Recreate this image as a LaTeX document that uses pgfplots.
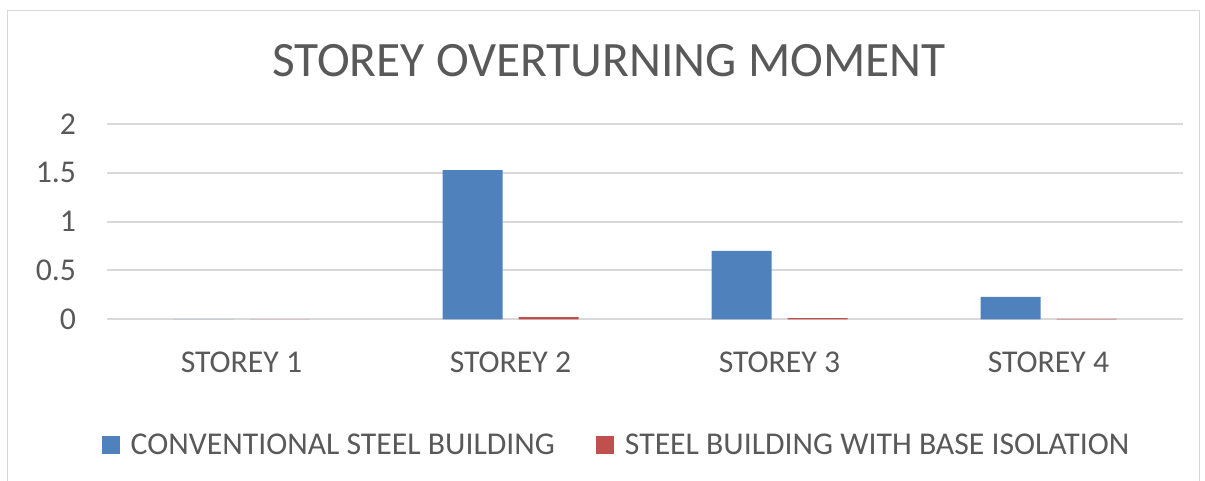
\documentclass[border=0pt]{standalone}
\usepackage{pgfplots}
\pgfplotsset{compat=1.18}
\usepackage{fontspec}
\setmainfont{Carlito}
\definecolor{txtgray}{HTML}{595959}
\definecolor{gridgray}{HTML}{D9D9D9}
\definecolor{cblue}{HTML}{4F81BD}
\definecolor{cred}{HTML}{C0504D}
\begin{document}
\begin{tikzpicture}
\useasboundingbox (0pt,0pt) rectangle (903.75pt,360.75pt);
\draw[gridgray, line width=0.75pt] (5.25pt,0pt) -- (5.25pt,352.5pt) -- (899.25pt,352.5pt) -- (899.25pt,0pt);
\begin{axis}[
  at={(80.25pt,121.3pt)}, anchor=south west,
  scale only axis, width=807pt, height=146.5pt,
  xmin=-0.5, xmax=3.5, ymin=0, ymax=2,
  ybar=12pt, bar width=45pt,
  axis line style={draw=none},
  axis x line*=bottom,
  xtick={0,1,2,3},
  xticklabels={STOREY 1,STOREY 2,STOREY 3,STOREY 4},
  ytick={0,0.5,1,1.5,2},
  yticklabels={0,0.5,1,1.5,2},
  major tick length=0pt,
  ymajorgrids, grid style={gridgray, line width=1.5pt},
  tick label style={font=\fontsize{23.8}{26}\selectfont, text=txtgray},
  yticklabel style={anchor=east, inner sep=0pt, xshift=-23pt},
  xticklabel style={anchor=north, inner sep=0pt, yshift=-24pt},
  /pgf/number format/assume math mode=true,
  title={STOREY OVERTURNING MOMENT},
  title style={font=\fontsize{37.1}{40}\selectfont, text=txtgray, anchor=center, at={(0.4665,1.283)}},
  legend style={draw=none, font=\fontsize{23.8}{26}\selectfont, text=txtgray,
    at={(0.474,-0.644)}, anchor=center, legend columns=2,
    /tikz/every odd column/.append style={column sep=6pt},
    /tikz/every even column/.append style={column sep=29pt}},
  legend image code/.code={\fill[#1, draw=none] (0pt,-6.75pt) rectangle (13.5pt,6.75pt);},
  legend cell align=left,
]
\addplot[fill=cblue, draw=none] coordinates {(0,0) (1,1.528) (2,0.70) (3,0.228)};
\addplot[fill=cred, draw=none] coordinates {(0,0) (1,0.022) (2,0.011) (3,0.003)};
\legend{CONVENTIONAL STEEL BUILDING, STEEL BUILDING WITH BASE ISOLATION}
\end{axis}
\end{tikzpicture}
\end{document}
